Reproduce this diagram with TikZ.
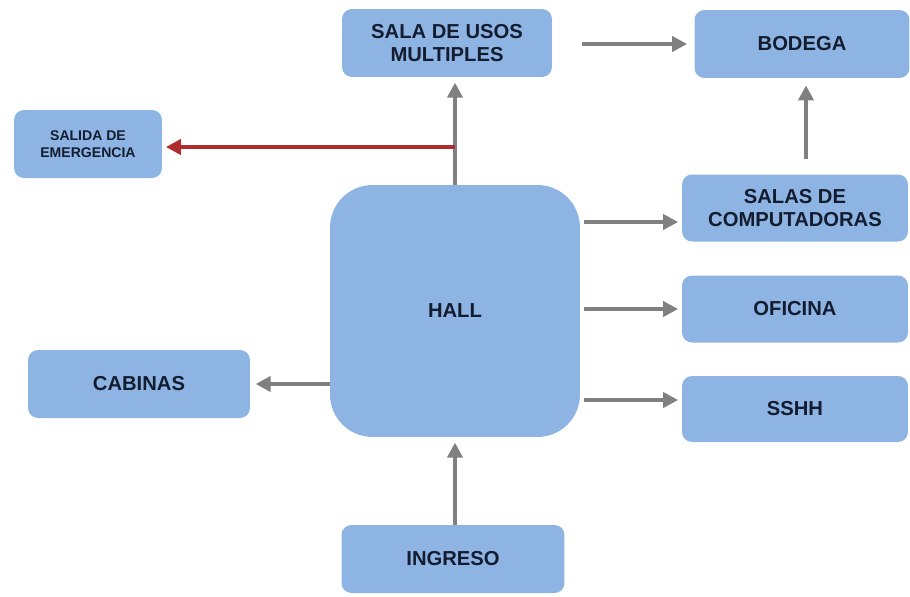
\documentclass[tikz,border=0pt]{standalone}
\usepackage{fontspec}
\setmainfont{Liberation Sans}
\usetikzlibrary{arrows.meta}

\definecolor{boxblue}{RGB}{141,180,226}
\definecolor{boxtext}{RGB}{20,28,48}
\definecolor{arrowgray}{RGB}{128,128,128}
\definecolor{exitred}{RGB}{175,45,45}

\tikzset{
    area/.style={fill=boxblue, rounded corners=0.2cm, align=center,
        text=boxtext, font=\fontsize{11.5pt}{13.5pt}\selectfont\bfseries,
        minimum width=4.3cm, minimum height=1.36cm, inner sep=0pt},
    flow/.style={draw=arrowgray, line width=2.8pt,
        -{Triangle[length=8.5pt,width=8.5pt]}}
}

\begin{document}
\begin{tikzpicture}[x=0.02cm,y=-0.02cm]

        \useasboundingbox (0,0) rectangle (910,596);

        % Hall
        \node[area, rounded corners=0.85cm, minimum width=5cm, minimum height=5.04cm] (hall) at (455,311) {HALL};

        % Upper areas
        \node[area, minimum width=4.2cm] (usos) at (447,43) {SALA DE USOS\\MULTIPLES};
        \node[area] (bodega) at (802,44) {BODEGA};
        \node[area, minimum width=2.96cm, font=\fontsize{8pt}{9.5pt}\selectfont\bfseries] (salida) at (88,144) {SALIDA DE\\EMERGENCIA};

        % Right side
        \node[area, minimum width=4.52cm, minimum height=1.34cm] (computo) at (795,208) {SALAS DE\\COMPUTADORAS};
        \node[area, minimum width=4.52cm, minimum height=1.34cm] (oficina) at (795,309) {OFICINA};
        \node[area, minimum width=4.52cm, minimum height=1.32cm] (sshh) at (795,409) {SSHH};

        % Left and bottom
        \node[area, minimum width=4.44cm] (cabinas) at (139,384) {CABINAS};
        \node[area, minimum width=4.46cm] (ingreso) at (453,559) {INGRESO};

        % Connectors
        \coordinate (cruce) at (455,147);
        \draw[flow] (hall.north -| cruce) -- ([yshift=-3pt]usos.south -| cruce);
        \draw[exitred, line width=2.8pt, -{Triangle[length=8.5pt,width=8.5pt]}] (cruce) -- ([xshift=2pt]salida.east |- cruce);
        \draw[flow] ([xshift=17pt]usos.east |- 0,44) -- ([xshift=-4pt]bodega.west);
        \draw[flow] ([yshift=8.5pt]computo.north -| 806,0) -- ([yshift=-4pt]bodega.south -| 806,0);
        \draw[flow] ([xshift=2pt]hall.east |- 0,222) -- ([xshift=-2pt]computo.west |- 0,222);
        \draw[flow] ([xshift=2pt]hall.east |- oficina) -- ([xshift=-2pt]oficina.west);
        \draw[flow] ([xshift=2pt]hall.east |- 0,400) -- ([xshift=-2pt]sshh.west |- 0,400);
        \draw[flow] (hall.west |- cabinas) -- ([xshift=3pt]cabinas.east);
        \draw[flow] (ingreso.north -| hall) -- ([yshift=-3pt]hall.south);

    \end{tikzpicture}
\end{document}
